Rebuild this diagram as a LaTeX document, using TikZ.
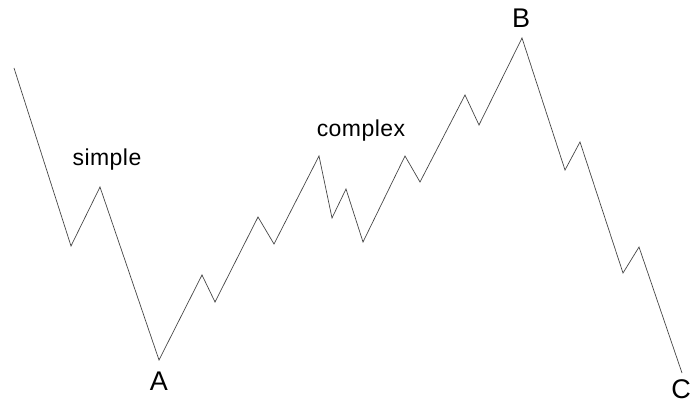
\documentclass[tikz,border=0pt]{standalone}
\usepackage{fontspec}
\setmainfont{Liberation Sans}
\usepackage{xcolor}
\definecolor{waveline}{RGB}{70,70,70}
\tikzset{
  wave/.style ={draw=waveline, line width=0.7pt, line join=miter},
  lab/.style  ={font=\fontsize{27}{31}\selectfont, inner sep=1pt},
  labs/.style ={font=\fontsize{23}{27}\selectfont\addfontfeature{LetterSpace=2}, inner sep=1pt},
}
\begin{document}
\begin{tikzpicture}[x=1pt,y=-1pt]
  \useasboundingbox (0,0) rectangle (692,403);
  % turning points of the wave
  \coordinate (p0) at (14,68);
  \coordinate (p1) at (71,246);
  \coordinate (p2) at (100,187);
  \coordinate (pA) at (159,360);
  \coordinate (p4) at (202,275);
  \coordinate (p5) at (215,302);
  \coordinate (p6) at (258,217);
  \coordinate (p7) at (274,244);
  \coordinate (p8) at (319,156);
  \coordinate (p9) at (332,218);
  \coordinate (p10) at (346,189);
  \coordinate (p11) at (363,242);
  \coordinate (p12) at (405,156);
  \coordinate (p13) at (420,182);
  \coordinate (p14) at (465,95);
  \coordinate (p15) at (479,125);
  \coordinate (pB) at (522,38);
  \coordinate (p17) at (565,170);
  \coordinate (p18) at (580,142);
  \coordinate (p19) at (623,273);
  \coordinate (p20) at (639,247);
  \coordinate (pC) at (682,373);
  \draw[wave] (p0) -- (p1) -- (p2) -- (pA) -- (p4) -- (p5) -- (p6) -- (p7)
    -- (p8) -- (p9) -- (p10) -- (p11) -- (p12) -- (p13) -- (p14) -- (p15)
    -- (pB) -- (p17) -- (p18) -- (p19) -- (p20) -- (pC);
  % labels
  \node[lab] (labA) at (159,381) {A};
  \node[lab] (labB) at (521,18) {B};
  \node[lab] (labC) at (681,389) {C};
  \node[labs] (simple) at (107,160) {simple};
  \node[labs] (complex) at (361,131) {complex};
\end{tikzpicture}
\end{document}
